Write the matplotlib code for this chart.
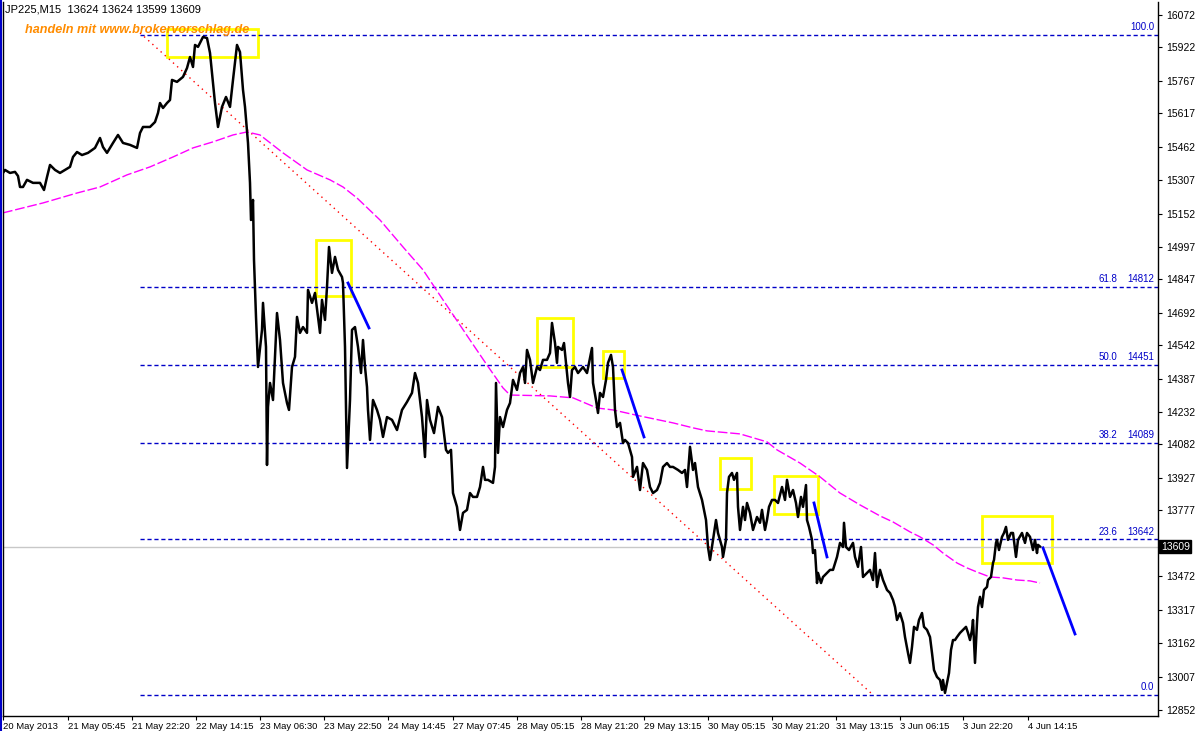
import matplotlib
matplotlib.use("Agg")
import matplotlib.pyplot as plt
from matplotlib.patches import Rectangle
from matplotlib.lines import Line2D
import matplotlib.transforms as mtransforms

plt.rcParams['font.family'] = ['Liberation Sans', 'DejaVu Sans']

# ---------------- DATA ----------------
# bar index (M15 bars as drawn) and price
bar_x = [3, 5, 10, 15, 18, 20, 23, 27, 33, 40, 44, 47, 50, 55, 60, 65, 70, 73, 77, 82,
         88, 95, 100, 103, 107, 113, 118, 123, 130, 137, 140, 143, 150, 155, 158, 160, 163, 167, 170, 172,
         177, 183, 187, 190, 193, 195, 198, 203, 207, 210, 213, 215, 218, 222, 226, 230, 233, 237, 240, 243,
         245, 248, 250, 251, 253, 254, 256, 258, 262, 263, 266, 267, 268, 270, 273, 277, 280, 283, 287, 289,
         292, 295, 297, 300, 303, 307, 308, 312, 315, 320, 322, 325, 327, 329, 332, 335, 338, 342, 343, 345,
         347, 350, 352, 355, 358, 361, 363, 365, 367, 368, 370, 373, 377, 380, 383, 387, 392, 397, 402, 407,
         412, 415, 418, 422, 425, 427, 430, 434, 438, 442, 444, 446, 448, 451, 453, 457, 460, 463, 467, 470,
         473, 477, 480, 483, 485, 488, 493, 495, 496, 498, 500, 503, 507, 510, 513, 517, 520, 523, 525, 527,
         530, 533, 537, 540, 543, 547, 550, 552, 555, 557, 558, 562, 564, 566, 568, 570, 572, 575, 578, 583,
         587, 589, 592, 593, 596, 598, 600, 603, 606, 608, 611, 613, 615, 617, 620, 623, 625, 628, 632, 633,
         637, 640, 643, 647, 650, 653, 657, 660, 663, 667, 670, 673, 678, 682, 685, 687, 690, 693, 695, 698,
         702, 706, 708, 710, 713, 716, 718, 722, 723, 726, 727, 729, 732, 734, 737, 738, 740, 743, 745, 747,
         750, 753, 757, 760, 762, 765, 767, 769, 772, 775, 778, 782, 785, 787, 790, 793, 796, 798, 801, 803,
         806, 807, 809, 812, 813, 815, 817, 818, 821, 823, 827, 830, 833, 837, 840, 843, 844, 846, 849, 853,
         855, 858, 861, 863, 867, 870, 873, 875, 877, 880, 883, 887, 890, 893, 895, 897, 900, 903, 905, 908,
         910, 912, 914, 917, 919, 922, 924, 927, 930, 932, 934, 937, 940, 942, 943, 945, 947, 949, 951, 953,
         955, 957, 960, 963, 966, 968, 970, 972, 973, 975, 977, 978, 980, 982, 984, 987, 988, 991, 993, 994,
         996, 997, 999, 1002, 1004, 1006, 1008, 1011, 1013, 1016, 1018, 1022, 1025, 1027, 1030, 1033, 1035, 1037, 1038, 1040]
price = [15340, 15354, 15340, 15345, 15326, 15275, 15275, 15308, 15294, 15294, 15261, 15321, 15377, 15354, 15340, 15354, 15368, 15414, 15437, 15423,
         15433, 15456, 15502, 15460, 15433, 15479, 15516, 15479, 15470, 15456, 15525, 15553, 15553, 15576, 15618, 15664, 15641, 15664, 15678, 15771,
         15762, 15785, 15826, 15877, 15831, 15933, 15924, 15970, 15965, 15896, 15757, 15664, 15553, 15646, 15692, 15646, 15771, 15933, 15900, 15725,
         15646, 15479, 15294, 15122, 15215, 14937, 14673, 14441, 14613, 14738, 14534, 13987, 14256, 14367, 14288, 14691, 14566, 14367, 14274, 14242,
         14441, 14488, 14673, 14599, 14626, 14599, 14798, 14738, 14784, 14599, 14752, 14659, 14812, 14997, 14877, 14951, 14891, 14858, 14830, 14534,
         13973, 14288, 14613, 14626, 14534, 14413, 14566, 14441, 14348, 14242, 14103, 14288, 14242, 14196, 14117, 14209, 14196, 14149, 14242, 14279,
         14321, 14413, 14367, 14209, 14024, 14288, 14196, 14135, 14256, 14209, 14135, 14057, 14043, 14057, 13857, 13793, 13686, 13765, 13779, 13857,
         13839, 13839, 13885, 13978, 13918, 13918, 13904, 13978, 14367, 14043, 14209, 14163, 14242, 14274, 14381, 14335, 14413, 14441, 14367, 14520,
         14474, 14367, 14441, 14427, 14474, 14474, 14506, 14645, 14552, 14460, 14534, 14520, 14552, 14460, 14367, 14302, 14427, 14441, 14413, 14441,
         14413, 14460, 14529, 14367, 14288, 14228, 14321, 14302, 14381, 14460, 14497, 14441, 14242, 14163, 14182, 14089, 14103, 14089, 14024, 13932,
         13978, 13871, 13996, 13964, 13885, 13857, 13871, 13904, 13978, 13996, 13978, 13978, 13964, 13950, 13964, 13885, 14071, 13964, 13996, 13885,
         13825, 13732, 13607, 13547, 13640, 13732, 13672, 13607, 13561, 13640, 13857, 13932, 13950, 13918, 13950, 13793, 13686, 13793, 13732, 13811,
         13765, 13686, 13746, 13719, 13779, 13686, 13732, 13793, 13825, 13825, 13811, 13885, 13825, 13918, 13839, 13871, 13811, 13746, 13839, 13793,
         13894, 13732, 13700, 13640, 13579, 13593, 13440, 13487, 13440, 13468, 13487, 13501, 13501, 13561, 13626, 13607, 13719, 13607, 13593, 13626,
         13561, 13515, 13607, 13468, 13487, 13501, 13454, 13579, 13422, 13501, 13454, 13408, 13394, 13362, 13329, 13269, 13301, 13255, 13190, 13116,
         13070, 13144, 13237, 13223, 13269, 13301, 13237, 13223, 13190, 13116, 13037, 13005, 12991, 12945, 12991, 12931, 12977, 13023, 13130, 13176,
         13176, 13190, 13209, 13223, 13237, 13209, 13176, 13223, 13269, 13070, 13255, 13329, 13376, 13329, 13408, 13422, 13454, 13468, 13533, 13547,
         13626, 13640, 13593, 13654, 13672, 13700, 13640, 13672, 13672, 13561, 13640, 13672, 13626, 13672, 13654, 13593, 13640, 13579, 13617, 13609]

# moving average
ma_x = [3, 43, 77, 100, 127, 150, 173, 193, 213, 233, 247, 260, 283, 307, 330, 343, 357, 380, 403, 423,
        443, 470, 487, 503, 510, 550, 573, 597, 613, 640, 673, 693, 707, 740, 767, 777, 800, 820, 840, 860,
        880, 893, 910, 920, 933, 943, 957, 967, 977, 990, 1003, 1017, 1030, 1040]
ma_y = [15155, 15201, 15247, 15275, 15331, 15368, 15414, 15456, 15484, 15516, 15530, 15516, 15433, 15354, 15308, 15275, 15224, 15122, 14997, 14891,
        14752, 14566, 14450, 14344, 14311, 14307, 14298, 14251, 14242, 14214, 14182, 14159, 14145, 14131, 14094, 14057, 13996, 13932, 13857, 13802,
        13751, 13723, 13677, 13654, 13617, 13579, 13533, 13510, 13491, 13468, 13464, 13454, 13450, 13440]

# fibonacci retracement
fib_levels = [100.0, 61.8, 50.0, 38.2, 23.6, 0.0]
fib_prices = [15981, 14812, 14451, 14089, 13642, 12921]
fib_start = 140

# red dotted trend line (bar, price)
red_x = [140, 873]
red_y = [15989, 12922]

# blue trend segments
blue_lines = [([348, 369], [14830, 14622]),
              ([622, 644], [14427, 14117]),
              ([814, 827], [13811, 13561]),
              ([1043, 1075], [13603, 13204])]

# yellow boxes: x0, x1, low, high
boxes = [(167, 258, 15877, 16007),
         (316, 351, 14770, 15030),
         (537, 573, 14441, 14668),
         (603, 624, 14390, 14515),
         (720, 751, 13876, 14020),
         (774, 818, 13760, 13936),
         (982, 1052, 13533, 13751)]

last_price = 13609

y_ticks = [16072, 15922, 15767, 15617, 15462, 15307, 15152, 14997, 14847, 14692, 14542,
           14387, 14232, 14082, 13927, 13777, 13472, 13317, 13162, 13007, 12852]
x_tick_pos = [3, 68, 132, 196, 260, 324, 388, 453, 517, 581, 644, 708, 772, 836, 900, 963, 1028]
x_tick_labels = ["20 May 2013", "21 May 05:45", "21 May 22:20", "22 May 14:15", "23 May 06:30",
                 "23 May 22:50", "24 May 14:45", "27 May 07:45", "28 May 05:15", "28 May 21:20",
                 "29 May 13:15", "30 May 05:15", "30 May 21:20", "31 May 13:15", "3 Jun 06:15",
                 "3 Jun 22:20", "4 Jun 14:15"]

# ---------------- PLOT ----------------
fig = plt.figure(figsize=(11.99, 7.31), dpi=100)
ax = fig.add_axes([3 / 1199, 15 / 731, 1155 / 1199, 714 / 731])
ax.set_xlim(3, 1158)
ax.set_ylim(12824, 16132)

fib_color = "#0000c8"
for lvl, p in zip(fib_levels, fib_prices):
    ax.plot([fib_start, 1158], [p, p], color=fib_color, lw=1, linestyle=(0, (3, 2)))
    if lvl in (100.0, 0.0):
        ax.text(1154, p + 12, f"{lvl:.1f}", color=fib_color, fontsize=7, ha="right", va="bottom")
    else:
        ax.text(1117, p + 12, f"{lvl:.1f}", color=fib_color, fontsize=7, ha="right", va="bottom")
        ax.text(1154, p + 12, str(p), color=fib_color, fontsize=7, ha="right", va="bottom")

ax.axhline(last_price, color="#c8c8c8", lw=1)

ax.plot(red_x, red_y, color="red", lw=1, linestyle=(0, (1, 3)))
ax.plot(ma_x, ma_y, color="#ff00ff", lw=1, linestyle=(0, (7, 2)))
ax.plot(bar_x, price, color="black", lw=1.8)

for bx, by in blue_lines:
    ax.plot(bx, by, color="#0000ff", lw=2)

for x0, x1, lo, hi in boxes:
    ax.add_patch(Rectangle((x0, lo), x1 - x0, hi - lo, fill=False, edgecolor="#ffff00", lw=2))

# axes styling
ax.spines["top"].set_visible(False)
for side in ["left", "right", "bottom"]:
    ax.spines[side].set_color("black")
    ax.spines[side].set_linewidth(1)
ax.yaxis.tick_right()
ax.set_yticks(y_ticks)
ax.set_yticklabels([str(t) for t in y_ticks])
ax.tick_params(axis="y", direction="out", length=3, pad=3, labelsize=7.5)
ax.set_xticks(x_tick_pos)
ax.set_xticklabels(x_tick_labels, ha="left")
ax.tick_params(axis="x", direction="out", length=3, pad=1, labelsize=6.8)

trans = mtransforms.blended_transform_factory(ax.transAxes, ax.transData)
ax.text(1.0025, last_price, str(last_price), transform=trans, color="white", fontsize=7.5,
        ha="left", va="center", clip_on=False,
        bbox=dict(boxstyle="square,pad=0.15", fc="black", ec="black"))

fig.text(5 / 1199, 1 - 9 / 731, "JP225,M15  13624 13624 13599 13609", fontsize=8,
         ha="left", va="center", color="black")
fig.text(25 / 1199, 1 - 30 / 731, "handeln mit www.brokervorschlag.de", fontsize=9.1,
         fontweight="bold", fontstyle="italic", ha="left", va="center", color="#ff8c00")

fig.add_artist(Line2D([0.5 / 1199, 0.5 / 1199], [0, 1], color="#0000c8", lw=1.5))

fig.savefig("out.png", dpi=100)
